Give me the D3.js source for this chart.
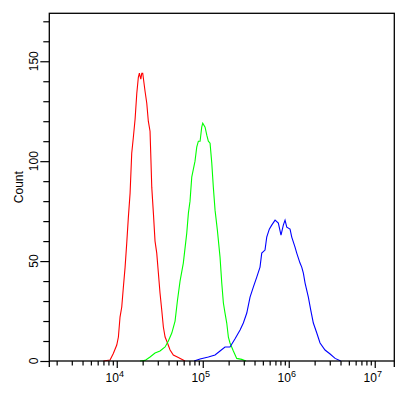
<!DOCTYPE html>
<html>
<head>
<meta charset="utf-8">
<script src="https://cdn.jsdelivr.net/npm/d3@7"></script>
<style>
body{margin:0;background:#fff;}
text{font-family:"Liberation Sans",Arial,sans-serif;}
</style>
</head>
<body>
<div id="chart"></div>
<script>
(function(){
"use strict"
//---flow histogram, 3 overlaid samples---

// x values are log10 of intensity, y values are counts
var redX = [3.844,3.922,3.960,4.000,4.019,4.038,4.058,4.077,4.097,4.116,4.135,4.155,4.174,4.193,4.213,4.233,4.251,4.263,4.280,4.291,4.302,4.329,4.349,4.367,4.387,4.395,4.407,4.426,4.445,4.465,4.484,4.503,4.523,4.542,4.562,4.581,4.620,4.658,4.716,4.794],
	redY = [0,0.5,3.8,8,12,22,27,37,47,59,72,84,104,112,121,134,142,144,141,144,144,135,129,120,115,104,87,74,60,54,44,34,25.5,17,12,10,5.5,3,1.7,0];

var greenX = [4.271,4.329,4.387,4.445,4.503,4.562,4.600,4.640,4.678,4.705,4.736,4.774,4.814,4.833,4.852,4.872,4.910,4.930,4.949,4.969,4.988,5.000,5.027,5.047,5.065,5.085,5.105,5.123,5.143,5.170,5.201,5.221,5.240,5.259,5.279,5.298,5.317,5.356,5.395,5.453,5.503],
	greenY = [0,0.3,2,4,5,7,10,14,20,30,40,49,64,74,80,92,100,107,110,110,117,119,117,113,110,109,99,87,75.5,65.5,52,39,29,24,19,12,9,5,1.3,0.8,0];

var blueX = [4.899,4.969,5.065,5.143,5.201,5.259,5.317,5.374,5.434,5.472,5.512,5.550,5.588,5.628,5.666,5.686,5.724,5.744,5.774,5.802,5.841,5.879,5.910,5.937,5.957,5.977,6.015,6.035,6.073,6.093,6.131,6.151,6.170,6.190,6.228,6.256,6.286,6.326,6.364,6.422,6.481,6.539,6.605],
	blueY = [0,1,2,3,5,7,7,11,15.5,19,24,32,37,42,47,54,55.5,62,66,68,70.5,69,63,68,70.5,67,66,62,57,54,49,47,44,39,32,25.5,19,14,9,5.5,3.5,1.3,0];

var xTickLabels = ["4","5","6","7"],
	yTickLabels = ["0","50","100","150"];

var W = 409, H = 398,
	left = 49.3, right = 394.3, top = 13.3, bottom = 361;

var x = d3.scaleLog().domain([Math.pow(10,3.2155), Math.pow(10,7.2275)]).range([left,right]),
	y = d3.scaleLinear().domain([0,174]).range([bottom,top]);

var svg = d3.select('#chart').append('svg')
	.attr('width',W)
	.attr('height',H)
	.style('display','block');

var line = d3.line()
	.x(function(d){return x(Math.pow(10,d[0]));})
	.y(function(d){return y(d[1]);});

function series(xs,ys){
	return xs.map(function(v,i){return [v,ys[i]];});
}

var curves = [
	{data:series(redX,redY), color:'#ff0000'},
	{data:series(greenX,greenY), color:'#00ff00'},
	{data:series(blueX,blueY), color:'#0000ff'}
];

svg.selectAll('path.curve')
	.data(curves)
	.enter()
		.append('path')
			.attr('class','curve')
			.attr('d',function(d){return line(d.data);})
			.style('fill','none')
			.style('stroke',function(d){return d.color;})
			.style('stroke-width',1.1);

// frame
svg.append('rect')
	.attr('x',left).attr('y',top)
	.attr('width',right-left).attr('height',bottom-top)
	.style('fill','none')
	.style('stroke','black')
	.style('stroke-width',1.3);

// frame sides run a bit below the axis
svg.append('line').attr('x1',left).attr('x2',left).attr('y1',bottom).attr('y2',bottom+6)
	.style('stroke','black').style('stroke-width',1.3);
svg.append('line').attr('x1',right).attr('x2',right).attr('y1',bottom).attr('y2',bottom+6)
	.style('stroke','black').style('stroke-width',1.3);

// x axis ticks
var xTicks = x.ticks().filter(function(v){
	var p = x(v); return p > left+1 && p < right-1;
});
var xAxis = d3.axisBottom(x)
	.tickValues(xTicks)
	.tickSize(0)
	.tickFormat('');
var gx = svg.append('g').attr('transform','translate(0,'+bottom+')').call(xAxis);
gx.select('.domain').remove();
gx.selectAll('.tick line')
	.attr('y2',function(d){
		var m = Math.round(Math.log10(d)*1000)%1000 === 0;
		return m ? 7 : 4.5;
	})
	.style('stroke','black').style('stroke-width',1.2);

var xl = svg.selectAll('text.xlab')
	.data(xTickLabels)
	.enter()
		.append('text')
			.attr('class','xlab')
			.attr('x',function(d){return x(Math.pow(10,+d))-2;})
			.attr('y',382)
			.attr('text-anchor','middle')
			.style('font-size','12px');
xl.append('tspan').text('10');
xl.append('tspan').attr('dy',-5).style('font-size','9px').text(function(d){return d;});

// y axis ticks
var yAxis = d3.axisLeft(y)
	.tickValues(d3.range(0,171,10))
	.tickSize(0)
	.tickFormat('');
var gy = svg.append('g').attr('transform','translate('+left+',0)').call(yAxis);
gy.select('.domain').remove();
gy.selectAll('.tick line')
	.attr('x2',function(d){return d%50===0 ? -9 : -6;})
	.style('stroke','black').style('stroke-width',1.2);

svg.selectAll('text.ylab')
	.data(yTickLabels)
	.enter()
		.append('text')
			.attr('class','ylab')
			.attr('transform',function(d){return 'translate(37.5,'+y(+d)+') rotate(-90)';})
			.attr('text-anchor','middle')
			.style('font-size','12px')
			.text(function(d){return d;});

svg.append('text')
	.attr('transform','translate(22.5,'+((top+bottom)/2)+') rotate(-90)')
	.attr('text-anchor','middle')
	.style('font-size','12px')
	.text('Count');

})();
</script>
</body>
</html>
